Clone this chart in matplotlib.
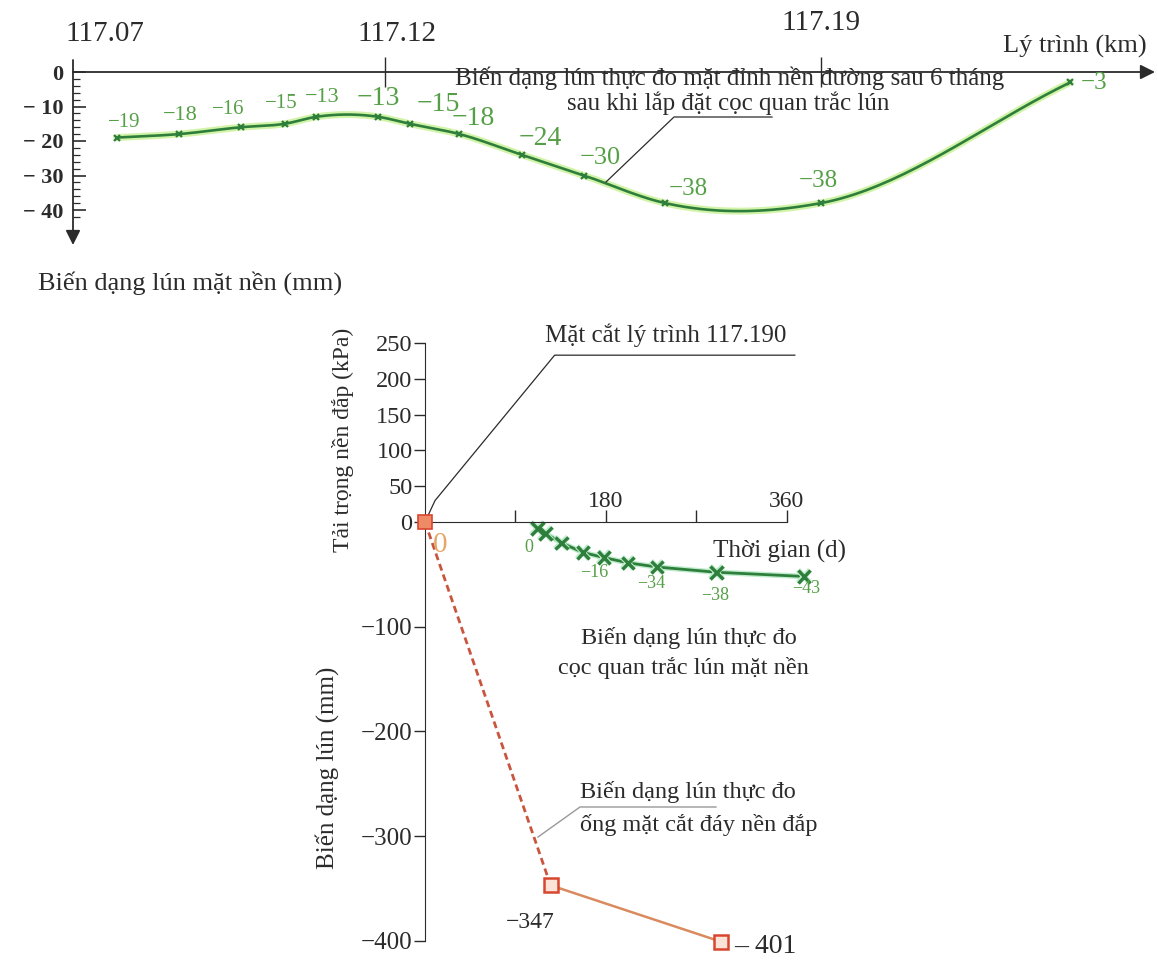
import numpy as np
import matplotlib
matplotlib.use('Agg')
import matplotlib.pyplot as plt
from matplotlib.lines import Line2D
import matplotlib.patheffects as pe
import matplotlib.transforms as mtrans
from matplotlib.ticker import FixedLocator

plt.rcParams['font.family'] = ['Liberation Serif', 'DejaVu Serif']

# ---------------- data : top chart (surface settlement along chainage) ----------------
chainage_km = [117.077, 117.087, 117.097, 117.104, 117.109, 117.119, 117.124,
               117.132, 117.142, 117.152, 117.165, 117.190, 117.230]
surface_mm = [-19, -18, -16, -15, -13, -13, -15, -18, -24, -30, -38, -38, -3]
surface_labels = ['−19', '−18', '−16', '−15', '−13', '−13', '−15', '−18',
                  '−24', '−30', '−38', '−38', '−3']
chain_ticks = [117.07, 117.12, 117.19]
chain_tick_labels = ['117.07', '117.12', '117.19']
depth_ticks = [0, -10, -20, -30, -40]
depth_tick_labels = ['0', '− 10', '− 20', '− 30', '− 40']

# ---------------- data : bottom chart (section 117.190) ----------------
load_days = [0, 10, 129, 368]
load_kpa = [0, 30, 233, 233]
plate_days = [112, 120, 136, 157, 178, 202, 231, 290, 377]
plate_mm = [-6, -11, -20, -29, -34, -39, -43, -48, -52]
plate_label_idx = [0, 4, 6, 7, 8]
plate_labels = ['0', '−16', '−34', '−38', '−43']
pipe_days = [0, 125, 295]
pipe_mm = [0, -347, -401]
pipe_labels = ['0', '−347', '– 401']
load_ticks = [0, 50, 100, 150, 200, 250]
settle_ticks = [-100, -200, -300, -400]
settle_tick_labels = ['−100', '−200', '−300', '−400']
day_ticks = [90, 180, 270, 360]
day_tick_labels = ['', '180', '', '360']

W, H = 1158, 965
fig = plt.figure(figsize=(W / 100, H / 100), dpi=100)
fig.patch.set_facecolor('white')


def rect(l, t, r, b):
    return [l / W, 1 - b / H, (r - l) / W, (b - t) / H]


def ftext(x, y, s, **kw):
    fig.text(x / W, 1 - y / H, s, **kw)


def fline(pts, **kw):
    xs = [p[0] / W for p in pts]
    ys = [1 - p[1] / H for p in pts]
    fig.add_artist(Line2D(xs, ys, transform=fig.transFigure, **kw))


def smooth(x, y, n=40):
    x = np.asarray(x, float)
    y = np.asarray(y, float)
    m = np.gradient(y, x)
    t = np.linspace(0, 1, n)
    h00 = 2 * t**3 - 3 * t**2 + 1
    h10 = t**3 - 2 * t**2 + t
    h01 = -2 * t**3 + 3 * t**2
    h11 = t**3 - t**2
    xs, ys = [], []
    for i in range(len(x) - 1):
        h = x[i + 1] - x[i]
        xs.append(x[i] + t * h)
        ys.append(h00 * y[i] + h10 * h * m[i] + h01 * y[i + 1] + h11 * h * m[i + 1])
    return np.concatenate(xs), np.concatenate(ys)


DARK = '#2b2b2b'
GREEN_LINE = '#2f7f3c'
GREEN_TXT = '#55a046'
HALO = '#d2f4a8'

# ================= TOP CHART =================
px_per_km = 6233.0
px_per_mm = 3.45
ax1 = fig.add_axes(rect(73, 60, 1155, 245))
ax1.set_xlim(117.07, 117.07 + (1155 - 73) / px_per_km)
ax1.set_ylim(-(245 - 72) / px_per_mm, (72 - 60) / px_per_mm)
ax1.patch.set_alpha(0)
for s in ['left', 'right', 'bottom']:
    ax1.spines[s].set_visible(False)
ax1.spines['top'].set_position(('data', 0))
ax1.spines['top'].set_visible(False)

xmin, xmax = ax1.get_xlim()
ymin, ymax = ax1.get_ylim()
ax1.annotate('', xy=(xmax, 0), xytext=(xmin, 0), annotation_clip=False,
             arrowprops=dict(arrowstyle='-|>', color=DARK, lw=1.3,
                             mutation_scale=22, shrinkA=0, shrinkB=0))
ax1.annotate('', xy=(xmin, ymin), xytext=(xmin, ymax), annotation_clip=False,
             arrowprops=dict(arrowstyle='-|>', color=DARK, lw=1.3,
                             mutation_scale=22, shrinkA=0, shrinkB=0))

ax1.set_yticks(depth_ticks)
ax1.set_yticklabels(depth_tick_labels, fontsize=16, fontweight='bold', color=DARK)
ax1.yaxis.set_minor_locator(FixedLocator(list(range(-42, 1, 2))))
ax1.tick_params(axis='y', which='major', direction='in', length=9, width=1.2,
                color=DARK, pad=7)
ax1.tick_params(axis='y', which='minor', direction='in', length=5, width=0.9,
                color=DARK)

ax1.xaxis.tick_top()
ax1.set_xticks(chain_ticks)
ax1.set_xticklabels(chain_tick_labels, fontsize=21, color=DARK)
ax1.tick_params(axis='x', which='major', direction='inout', length=22, width=1.0,
                color=DARK, pad=7)
xt = ax1.xaxis.get_major_ticks()
xt[0].tick2line.set_visible(False)
xt[2].set_pad(15)
for tk, dx in zip(xt, [32, 12, 0]):
    tk.label2.set_transform(tk.label2.get_transform() +
                            mtrans.ScaledTranslation(dx / 100, 0, fig.dpi_scale_trans))

sx, sy = smooth(chainage_km, surface_mm)
ax1.plot(sx, sy, color=GREEN_LINE, lw=1.9, solid_capstyle='round',
         path_effects=[pe.Stroke(linewidth=5, foreground=HALO), pe.Normal()])
ax1.plot(chainage_km, surface_mm, ls='none', marker='x', ms=5, mew=1.6,
         color=GREEN_LINE, clip_on=False)

lab_off_px = [(8, 15), (1, 19), (-13, 18), (-4, 20), (6, 19), (0, 18), (29, 19),
              (14, 16), (18, 16), (16, 17), (23, 14), (-3, 22), (24, -1)]
lab_fs = [15, 16, 15, 15, 16, 20, 20, 20, 20, 19, 18, 18, 18]
for x, y, s, (dx, dy), fs in zip(chainage_km, surface_mm, surface_labels, lab_off_px, lab_fs):
    ax1.annotate(s, (x, y), xytext=(dx * 0.72, dy * 0.72), textcoords='offset points',
                 ha='center', va='center', fontsize=fs, color=GREEN_TXT,
                 annotation_clip=False)

ftext(1075, 46, 'Lý trình (km)', fontsize=19, ha='center', va='center', color=DARK)
ftext(190, 283, 'Biến dạng lún mặt nền (mm)', fontsize=19, ha='center', va='center',
      color=DARK)
ftext(455, 78, 'Biến dạng lún thực đo mặt đỉnh nền đường sau 6 tháng', fontsize=18,
      ha='left', va='center', color=DARK)
ftext(567, 103, 'sau khi lắp đặt cọc quan trắc lún', fontsize=18, ha='left',
      va='center', color=DARK)
fline([(772, 117), (674, 117), (606, 182)], color=DARK, lw=0.9)

# ================= BOTTOM CHART =================
px_per_day = 1.005
px_per_kpa = 0.716
px_per_mm2 = 1.047
L, R = 425, 880

axL = fig.add_axes(rect(L, 340, R, 522))   # load (kPa)
axS = fig.add_axes(rect(L, 522, R, 950))   # settlement (mm)
for a in (axL, axS):
    a.set_xlim(0, (R - L) / px_per_day)
    a.patch.set_alpha(0)
    for s in ['left', 'right', 'bottom', 'top']:
        a.spines[s].set_visible(False)
axL.set_ylim(0, (522 - 340) / px_per_kpa)
axS.set_ylim(-(950 - 522) / px_per_mm2, 0)

axL.spines['left'].set_visible(True)
axL.spines['left'].set_bounds(0, 250)
axL.spines['left'].set_color(DARK)
axL.set_yticks(load_ticks)
axL.set_yticklabels([str(v) for v in load_ticks], fontsize=17.5, color=DARK)
axL.tick_params(axis='y', direction='out', length=8, width=1.0, color=DARK, pad=1)
axL.set_xticks([])
axL.set_ylabel('Tải trọng nền đắp (kPa)', fontsize=17, color=DARK)
axL.yaxis.set_label_coords(-0.155, 0.45)

axS.spines['left'].set_visible(True)
axS.spines['left'].set_bounds(-400, 0)
axS.spines['left'].set_color(DARK)
axS.spines['top'].set_visible(True)
axS.spines['top'].set_bounds(0, 360)
axS.spines['top'].set_color(DARK)
axS.set_yticks(settle_ticks)
axS.set_yticklabels(settle_tick_labels, fontsize=18, color=DARK)
axS.tick_params(axis='y', direction='out', length=8, width=1.0, color=DARK, pad=1)
axS.xaxis.tick_top()
axS.set_xticks(day_ticks)
axS.set_xticklabels(day_tick_labels, fontsize=17, color=DARK)
axS.tick_params(axis='x', direction='out', length=9, width=1.0, color=DARK, pad=-2)
axS.set_ylabel('Biến dạng lún (mm)', fontsize=18, color=DARK)
axS.yaxis.set_label_coords(-0.19, 0.425)

# load history
axL.plot(load_days, load_kpa, color=DARK, lw=0.9, clip_on=False)
ftext(545, 335, 'Mặt cắt lý trình 117.190', fontsize=18, ha='left', va='center',
      color=DARK)

# surface settlement plate
axS.plot(plate_days, plate_mm, color=GREEN_LINE, lw=2.0, marker='x', ms=9, mew=2.4,
         path_effects=[pe.Stroke(linewidth=4, foreground='#bfeccc'), pe.Normal()],
         clip_on=False)
plate_off_px = [(-9, -19), (-10, -15), (-6, -16), (-1, -23), (2, -12)]
for i, s, (dx, dy) in zip(plate_label_idx, plate_labels, plate_off_px):
    axS.annotate(s, (plate_days[i], plate_mm[i]), xytext=(dx * 0.72, dy * 0.72),
                 textcoords='offset points', ha='center', va='center', fontsize=13,
                 color=GREEN_TXT, annotation_clip=False)

# settlement pipe under embankment
axS.plot(pipe_days[:2], pipe_mm[:2], color='#c9553f', lw=2.0, ls=(0, (2.5, 1.5)),
         clip_on=False)
axS.plot(pipe_days[1:], pipe_mm[1:], color='#d98a5e', lw=1.8, clip_on=False)
axS.plot(pipe_days[:1], pipe_mm[:1], ls='none', marker='s', ms=10, mfc='#ee8a66',
         mec='#d9462f', mew=1.2, clip_on=False, zorder=5)
axS.plot(pipe_days[1:], pipe_mm[1:], ls='none', marker='s', ms=10, mfc='#fbe3d8',
         mec='#d9462f', mew=1.8, clip_on=False, zorder=5)
pipe_off_px = [(15, -23), (-20, -37), (44, -5)]
pipe_fs = [21, 17, 20]
pipe_col = ['#e6a66a', DARK, DARK]
for x, y, s, (dx, dy), fs, c in zip(pipe_days, pipe_mm, pipe_labels, pipe_off_px,
                                    pipe_fs, pipe_col):
    axS.annotate(s, (x, y), xytext=(dx * 0.72, dy * 0.72), textcoords='offset points',
                 ha='center', va='center', fontsize=fs, color=c, annotation_clip=False)

ftext(780, 551, 'Thời gian (d)', fontsize=18, ha='center', va='center', color=DARK)
ftext(689, 638, 'Biến dạng lún thực đo', fontsize=17.5, ha='center', va='center',
      color=DARK)
ftext(683, 668, 'cọc quan trắc lún mặt nền', fontsize=17.5, ha='center', va='center',
      color=DARK)
ftext(580, 792, 'Biến dạng lún thực đo', fontsize=17.5, ha='left', va='center',
      color=DARK)
ftext(580, 825, 'ống mặt cắt đáy nền đắp', fontsize=17.5, ha='left', va='center',
      color=DARK)
fline([(716, 807), (580, 807), (538, 837)], color='#999999', lw=1.0)

fig.savefig('out.png', dpi=100, facecolor='white')
